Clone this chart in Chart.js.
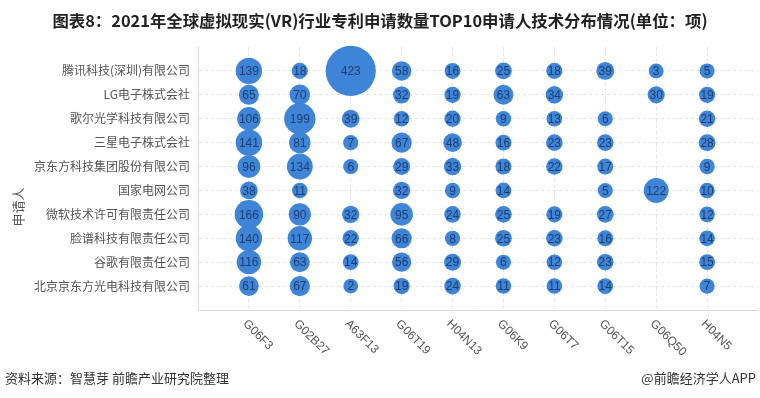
<!DOCTYPE html>
<html>
<head>
<meta charset="utf-8">
<script src="https://cdn.jsdelivr.net/npm/chart.js@4.4.1/dist/chart.umd.min.js"></script>
<style>
  html, body { margin: 0; padding: 0; background: #fff; }
  #wrap { position: relative; width: 760px; height: 398px; overflow: hidden; }
  #title { position: absolute; left: 0; top: 8px; width: 760px; text-align: center;
           font: bold 16.4px "Noto Sans CJK SC", sans-serif; color: #222; white-space: nowrap; }
  .foot { position: absolute; top: 368px; font: 13px "Noto Sans CJK SC", sans-serif; color: #333; }
</style>
</head>
<body>
<div id="wrap">
  <canvas id="grafico" width="760" height="398"></canvas>
  <div id="title">图表8：2021年全球虚拟现实(VR)行业专利申请数量TOP10申请人技术分布情况(单位：项)</div>
  <div class="foot" style="left:5px">资料来源：智慧芽 前瞻产业研究院整理</div>
  <div class="foot" style="right:4px">@前瞻经济学人APP</div>
</div>
<script>
// Filas: solicitantes (de arriba a abajo)
const applicants = [
  '腾讯科技(深圳)有限公司', 'LG电子株式会社', '歌尔光学科技有限公司', '三星电子株式会社',
  '京东方科技集团股份有限公司', '国家电网公司', '微软技术许可有限责任公司',
  '脸谱科技有限责任公司', '谷歌有限责任公司', '北京京东方光电科技有限公司'
];

// Columnas: códigos de tecnología
const techCodes = ['G06F3', 'G02B27', 'A63F13', 'G06T19', 'H04N13', 'G06K9', 'G06T7', 'G06T15', 'G06Q50', 'H04N5'];

// Valores por código (mismo orden que applicants, null = sin burbuja)
const G06F3  = [139, 65, 106, 141, 96, 38, 166, 140, 116, 61];
const G02B27 = [18, 70, 199, 81, 134, 11, 90, 117, 63, 67];
const A63F13 = [423, null, 39, 7, 6, null, 32, 22, 14, 2];
const G06T19 = [58, 32, 12, 67, 29, 32, 95, 66, 56, 19];
const H04N13 = [16, 19, 20, 48, 33, 9, 24, 8, 29, 24];
const G06K9  = [25, 63, 9, 16, 18, 14, 25, 25, 6, 11];
const G06T7  = [18, 34, 13, 23, 22, null, 19, 23, 12, 11];
const G06T15 = [39, null, 6, 23, 17, 5, 27, 16, 23, 14];
const G06Q50 = [3, 30, null, null, null, 122, null, null, null, null];
const H04N5  = [5, 19, 21, 28, 9, 10, 12, 14, 15, 7];

const columns = [G06F3, G02B27, A63F13, G06T19, H04N13, G06K9, G06T7, G06T15, G06Q50, H04N5];

// Puntos de la burbuja: x = columna, y = fila, v = cantidad
const points = [];
columns.forEach((col, c) => {
  col.forEach((v, r) => {
    if (v !== null) points.push({ x: c, y: r, v: v });
  });
});

const BLUE = 'rgb(62,133,216)';
const GRID = '#e4e4e4';

// Números dentro de cada burbuja
const bubbleLabels = {
  id: 'bubbleLabels',
  afterDatasetsDraw(chart) {
    const ctx = chart.ctx;
    const meta = chart.getDatasetMeta(0);
    const data = chart.data.datasets[0].data;
    ctx.save();
    ctx.font = '12px "Liberation Sans", Arial, sans-serif';
    ctx.fillStyle = '#1f3d6e';
    ctx.textAlign = 'center';
    ctx.textBaseline = 'middle';
    meta.data.forEach((el, i) => {
      ctx.fillText(String(data[i].v), el.x, el.y + 1);
    });
    ctx.restore();
  }
};

// Etiquetas del eje x giradas y título del eje y
const axisText = {
  id: 'axisText',
  afterDraw(chart) {
    const ctx = chart.ctx;
    const xs = chart.scales.x;
    const bottom = chart.chartArea.bottom;
    ctx.save();
    ctx.font = '12px "Liberation Sans", Arial, sans-serif';
    ctx.fillStyle = '#555';
    ctx.textAlign = 'left';
    ctx.textBaseline = 'middle';
    techCodes.forEach((code, i) => {
      const px = xs.getPixelForValue(i);
      ctx.save();
      ctx.translate(px - 4, bottom + 12);
      ctx.rotate(Math.PI / 4);
      ctx.fillText(code, 0, 0);
      ctx.restore();
    });
    ctx.font = '13px "Noto Sans CJK SC", sans-serif';
    ctx.textAlign = 'center';
    ctx.translate(18, 207);
    ctx.rotate(-Math.PI / 2);
    ctx.fillText('申请人', 0, 0);
    ctx.restore();
  }
};

const ctx = document.getElementById('grafico').getContext('2d');
new Chart(ctx, {
  type: 'bubble',
  data: {
    datasets: [{
      data: points,
      backgroundColor: BLUE,
      borderWidth: 0,
      clip: false,
      radius: (c) => (c.raw ? 7.3 + c.raw.v * 0.042 : 0)
    }]
  },
  options: {
    responsive: false,
    animation: false,
    events: [],
    devicePixelRatio: 1,
    layout: { autoPadding: false, padding: { left: 0, right: 2, top: 47, bottom: 88 } },
    plugins: {
      legend: { display: false },
      title: { display: false },
      tooltip: { enabled: false }
    },
    scales: {
      x: {
        type: 'linear',
        min: -1,
        max: 10,
        afterBuildTicks: (s) => { s.ticks = techCodes.map((_, i) => ({ value: i })); },
        ticks: { display: false },
        grid: { color: GRID, drawTicks: false },
        border: { color: '#dcdcdc', dash: [3, 3] }
      },
      y: {
        type: 'linear',
        min: -1,
        max: 10,
        reverse: true,
        afterBuildTicks: (s) => { s.ticks = applicants.map((_, i) => ({ value: i })); },
        afterFit: (s) => { s.width = 198; },
        ticks: {
          autoSkip: false,
          padding: 8,
          color: '#555',
          font: { family: '"Noto Sans CJK SC", sans-serif', size: 12 },
          callback: (v) => applicants[v]
        },
        grid: { color: GRID, drawTicks: false },
        border: { color: '#dcdcdc', dash: [3, 3] }
      }
    }
  },
  plugins: [bubbleLabels, axisText]
});
</script>
</body>
</html>
